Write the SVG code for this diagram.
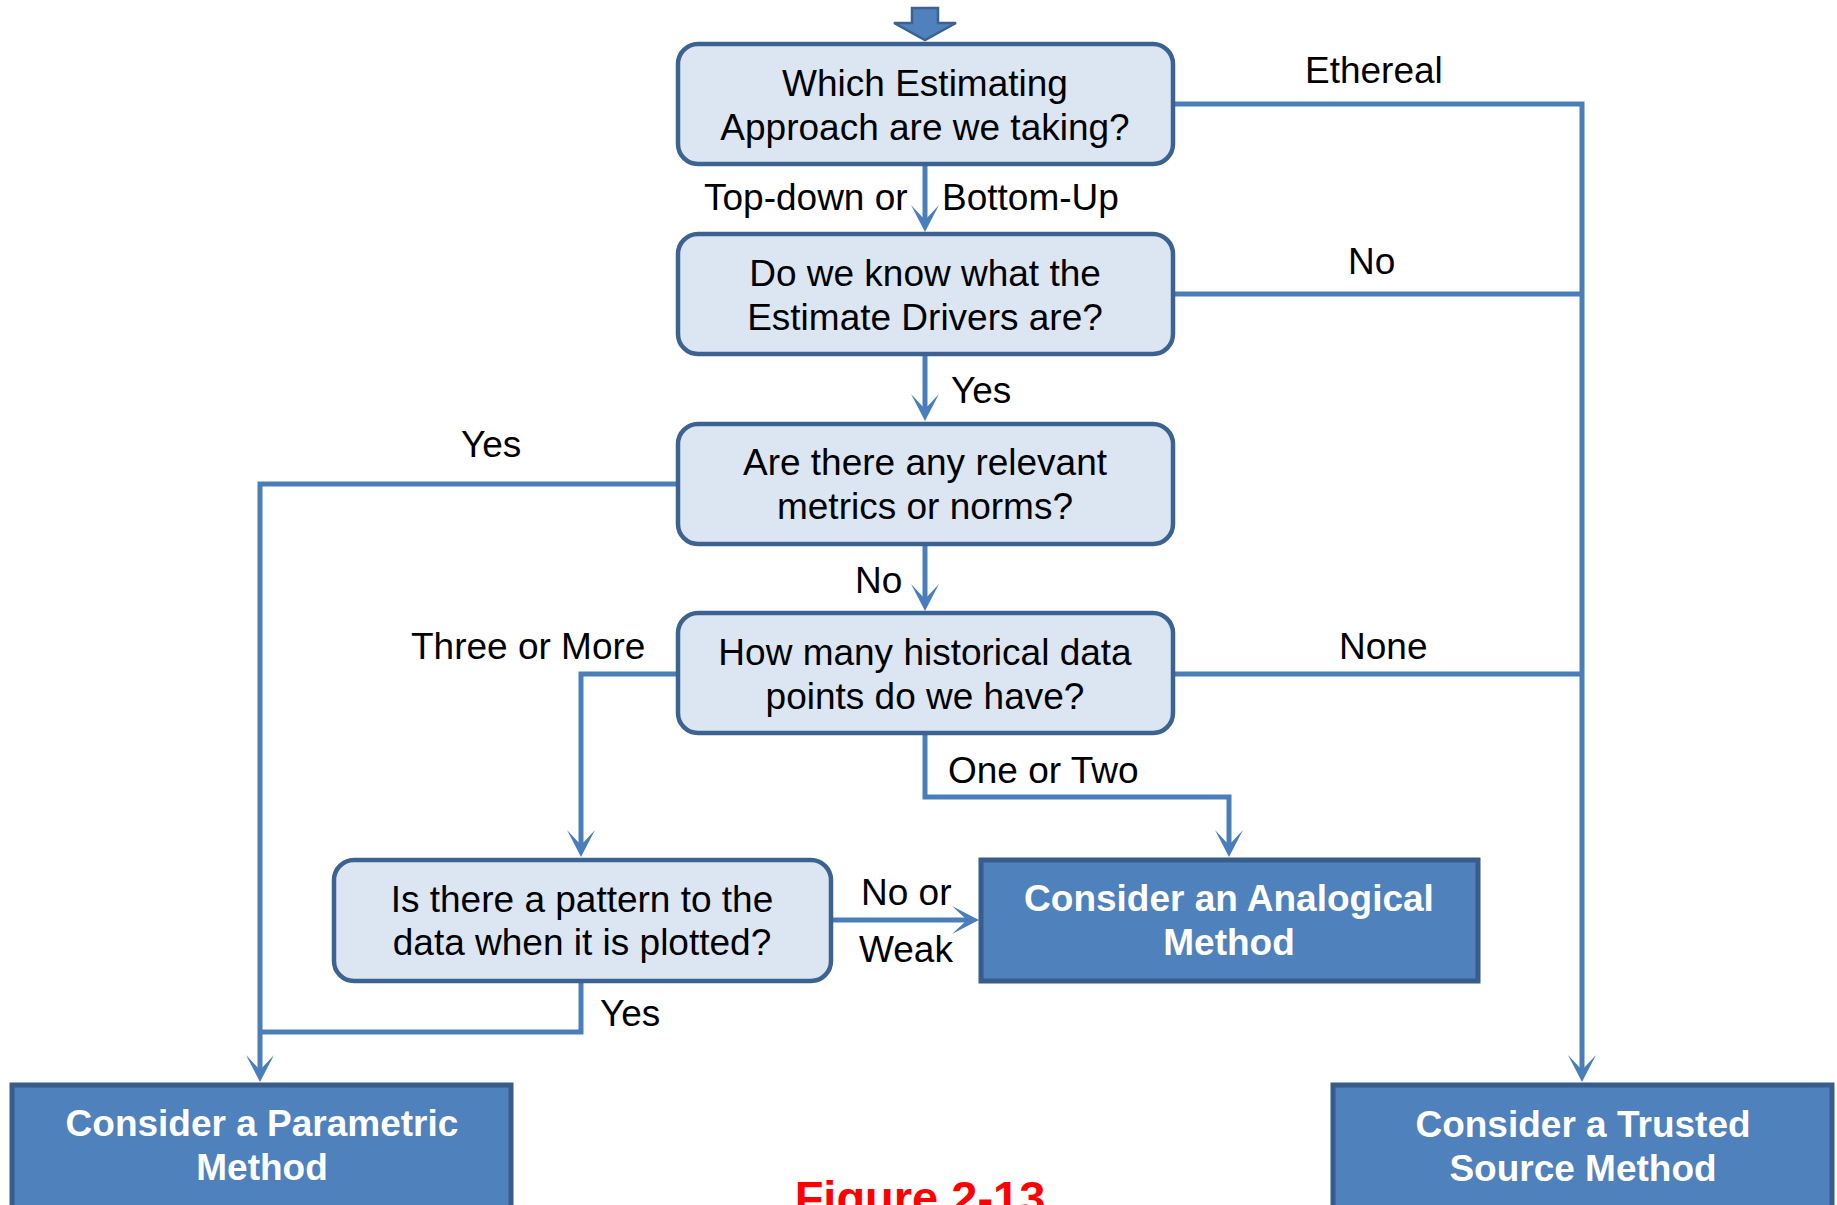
<svg xmlns="http://www.w3.org/2000/svg" width="1837" height="1205" viewBox="0 0 1837 1205">
<style>
.q{fill:#DCE6F2;stroke:#3C6291;stroke-width:4.5}
.m{fill:#4F81BD;stroke:#385D8A;stroke-width:5}
.t{font-family:"Liberation Sans",Arial,sans-serif;font-size:37px;fill:#000}
.qt{font-family:"Liberation Sans",Arial,sans-serif;font-size:37px;fill:#000;text-anchor:middle}
.mt{font-family:"Liberation Sans",Arial,sans-serif;font-size:37px;font-weight:bold;fill:#fff;text-anchor:middle}
.c{fill:none;stroke:#4A7EBB;stroke-width:5;stroke-linejoin:miter}
.ca{fill:none;stroke:#4A7EBB;stroke-width:5;marker-end:url(#ah)}
</style>
<defs>
<marker id="ah" markerUnits="userSpaceOnUse" viewBox="-30 -16 32 32" markerWidth="32" markerHeight="32" refX="-10" refY="0" orient="auto">
<path d="M0,0 L-27,-14 L-12,0 L-27,14 Z" fill="#4A7EBB"/>
</marker>
</defs>
<rect width="1837" height="1205" fill="#fff"/>
<g id="start">
<polygon points="912,8 938,8 938,23 956,23 925,40 894,23 912,23" fill="#4F81BD" stroke="#3C6291" stroke-width="2.5"/>
</g>
<g id="connectors">
<path class="ca" d="M925,165 V222"/>
<path class="ca" d="M1175,104 H1582 V1072"/>
<path class="c" d="M1175,294 H1582"/>
<path class="ca" d="M925,355 V411"/>
<path class="ca" d="M676,484 H260 V1072"/>
<path class="ca" d="M925,545 V601"/>
<path class="ca" d="M676,674 H581 V847"/>
<path class="c" d="M1175,674 H1582"/>
<path class="ca" d="M925,735 V797 H1229 V847"/>
<path class="ca" d="M833,920 H969"/>
<path class="c" d="M581,983 V1032 H260"/>
</g>
<g id="labels">
<text class="t" x="1305" y="83">Ethereal</text>
<text class="t" x="1348" y="274">No</text>
<text class="t" x="704" y="210">Top-down or</text>
<text class="t" x="942" y="210">Bottom-Up</text>
<text class="t" x="951" y="403">Yes</text>
<text class="t" x="461" y="457">Yes</text>
<text class="t" x="855" y="593">No</text>
<text class="t" x="411" y="659">Three or More</text>
<text class="t" x="1339" y="659">None</text>
<text class="t" x="948" y="783">One or Two</text>
<text class="t" x="861" y="905">No or</text>
<text class="t" x="859" y="962">Weak</text>
<text class="t" x="600" y="1026">Yes</text>
</g>
<g id="approach">
<rect class="q" x="678" y="44" width="495" height="120" rx="20"/>
<text class="qt" x="925" y="96">Which Estimating</text>
<text class="qt" x="925" y="140">Approach are we taking?</text>
</g>
<g id="drivers">
<rect class="q" x="678" y="234" width="495" height="120" rx="20"/>
<text class="qt" x="925" y="286">Do we know what the</text>
<text class="qt" x="925" y="330">Estimate Drivers are?</text>
</g>
<g id="metrics">
<rect class="q" x="678" y="424" width="495" height="120" rx="20"/>
<text class="qt" x="925" y="475">Are there any relevant</text>
<text class="qt" x="925" y="519">metrics or norms?</text>
</g>
<g id="history">
<rect class="q" x="678" y="613" width="495" height="120" rx="20"/>
<text class="qt" x="925" y="665">How many historical data</text>
<text class="qt" x="925" y="709">points do we have?</text>
</g>
<g id="pattern">
<rect class="q" x="334" y="860" width="497" height="121" rx="20"/>
<text class="qt" x="582" y="912">Is there a pattern to the</text>
<text class="qt" x="582" y="955">data when it is plotted?</text>
</g>
<g id="analogical">
<rect class="m" x="981" y="860" width="497" height="121"/>
<text class="mt" x="1229" y="911">Consider an Analogical</text>
<text class="mt" x="1229" y="955">Method</text>
</g>
<g id="parametric">
<rect class="m" x="12" y="1085" width="499" height="140"/>
<text class="mt" x="262" y="1136">Consider a Parametric</text>
<text class="mt" x="262" y="1180">Method</text>
</g>
<g id="trusted">
<rect class="m" x="1333" y="1085" width="499" height="140"/>
<text class="mt" x="1583" y="1137">Consider a Trusted</text>
<text class="mt" x="1583" y="1181">Source Method</text>
</g>
<text x="920" y="1214" font-family="'Liberation Sans',Arial,sans-serif" font-size="47" font-weight="bold" fill="#FF0000" text-anchor="middle">Figure 2-13</text>
</svg>
